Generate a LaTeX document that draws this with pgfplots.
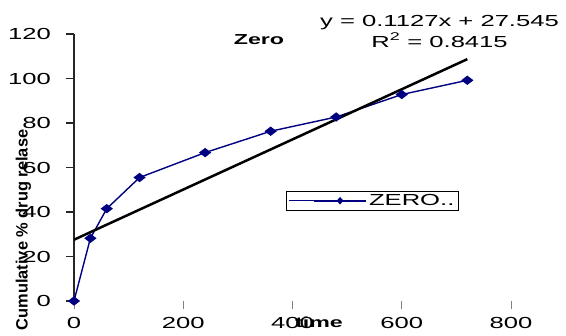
\documentclass[border=0pt]{standalone}
\usepackage{pgfplots}
\pgfplotsset{compat=1.18}
\usepackage{fontspec}
\setmainfont{Liberation Sans}[FakeStretch=1.6]
\newfontfamily\plainfont{Liberation Sans}
\definecolor{navy}{RGB}{0,0,128}
\begin{document}
\begin{tikzpicture}[x=1bp,y=1bp]
\useasboundingbox (-74,-34) rectangle (492,301);
\begin{axis}[
  at={(0,0)}, anchor=south west,
  scale only axis, width=437bp, height=267bp,
  xmin=0, xmax=800, ymin=0, ymax=120,
  xtick={0,200,400,600,800}, ytick={0,20,40,60,80,100,120},
  axis lines*=left,
  x axis line style={draw=none},
  y axis line style={black!85, line width=1.3bp},
  tick align=outside,
  major tick length=8bp,
  ytick style={black!85, line width=1.2bp},
  xtick style={gray, line width=0.8bp},
  /pgf/number format/assume math mode=true,
  tick label style={font=\fontsize{16bp}{18bp}\selectfont},
  yticklabel style={anchor=east, inner sep=0pt, xshift=-15bp},
  xticklabel style={anchor=north, inner sep=0pt, yshift=-8bp},
  xlabel={time},
  ylabel={Cumulative \% drug relase},
  xlabel style={font=\fontsize{14.5bp}{16bp}\selectfont\bfseries, at={(rel axis cs:0.5606,-0.0974)}, anchor=base},
  ylabel style={font=\fontsize{16.4bp}{18bp}\plainfont\bfseries, at={(rel axis cs:-0.1156,0.266)}, anchor=center},
  clip=false,
  legend style={at={(rel axis cs:0.485,0.412)}, anchor=north west, draw=black, line width=0.8bp,
    font=\fontsize{16bp}{18bp}\selectfont, inner xsep=2bp, inner ysep=1bp},
  legend image code/.code={
    \path (-25bp,0) -- (0,0);
    \draw[#1, line width=2bp, mark repeat=2, mark phase=2, mark options={scale=0.6, xscale=1.2}] plot coordinates {(0bp,0bp) (26bp,0bp) (52bp,0bp)};
  },
]
\addplot[navy, line width=1.4bp, mark=diamond*, mark size=3.8bp, mark options={xscale=1.75, fill=navy}]
  coordinates {(0,0) (30,28.2) (60,41.5) (120,55.5) (240,66.7) (360,76.3) (480,82.7) (600,92.8) (720,99.2)};
\addlegendentry{ZERO..}
\addplot[black, line width=2.5bp, forget plot] coordinates {(0,27.545) (720,108.689)};
\node[font=\fontsize{14.5bp}{16bp}\selectfont\bfseries, anchor=base] at (rel axis cs:0.4233,0.9588) {Zero};
\node[font=\fontsize{16bp}{18bp}\selectfont, anchor=base] at (rel axis cs:0.8364,1.0273) {y = 0.1127x + 27.545};
\node[font=\fontsize{16bp}{18bp}\selectfont, anchor=base] at (rel axis cs:0.8364,0.951) {R\textsuperscript{2} = 0.8415};
\end{axis}
\end{tikzpicture}
\end{document}
